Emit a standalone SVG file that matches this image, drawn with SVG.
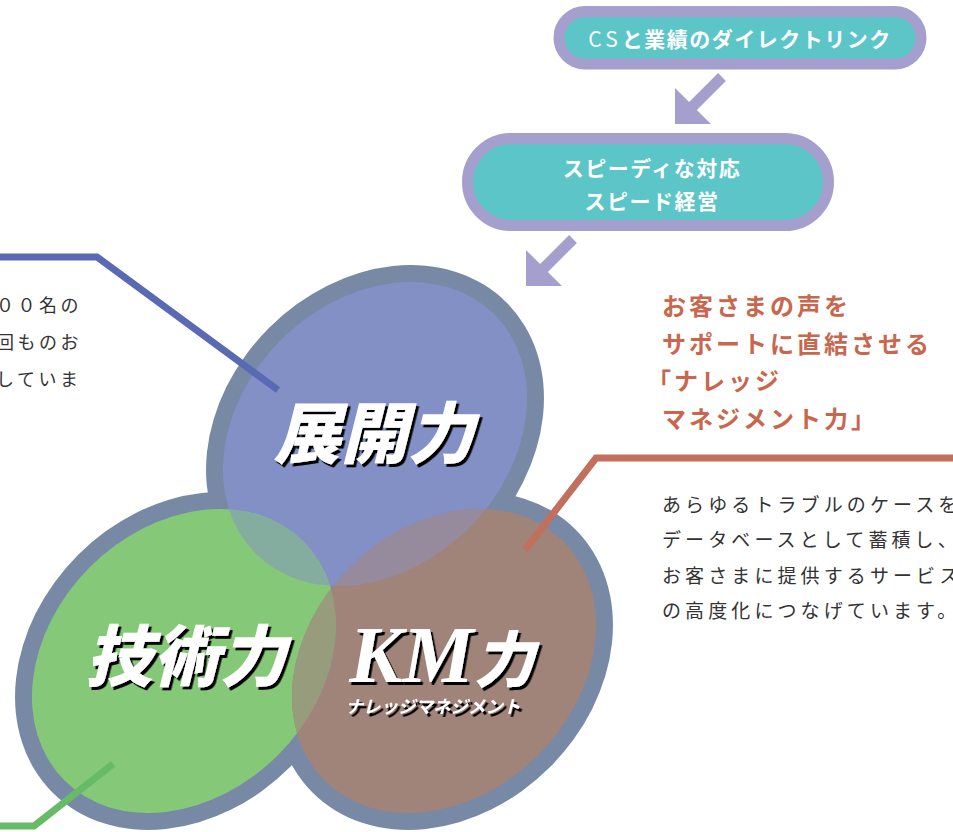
<svg xmlns="http://www.w3.org/2000/svg" width="953" height="832" viewBox="0 0 953 832">
<style>
.pill{fill:#5bc5c8;stroke:#a59fce;stroke-width:11}
.arrow{fill:#a59fce}
.ring{fill:#7889a6}
.jp{font-family:"Noto Sans CJK JP","Noto Sans",sans-serif}
.pt{fill:#fff;font-size:21px;font-weight:700;letter-spacing:1.5px;text-anchor:middle}
.big{fill:#fff;font-weight:900;font-style:italic;font-size:67px;text-anchor:middle}
.body{fill:#333;font-size:18px;letter-spacing:3.5px}
.rbody{fill:#333;font-size:19px;letter-spacing:4.1px}
.orange{fill:#c8674e;font-size:24px;font-weight:700;letter-spacing:3px}
.lead{fill:none;stroke-width:7;stroke-linejoin:miter}
</style>
<defs>
<filter id="sh" x="-10%" y="-10%" width="130%" height="140%">
<feDropShadow dx="2.5" dy="3" stdDeviation="0" flood-color="#000" flood-opacity="1"/>
</filter>
<ellipse id="eB" cx="375" cy="434" rx="169" ry="133" transform="rotate(-45 375 434)"/>
<ellipse id="eG" cx="184" cy="661" rx="169" ry="133" transform="rotate(-45 184 661)"/>
<ellipse id="eR" cx="444" cy="661" rx="169" ry="133" transform="rotate(-45 444 661)"/>
<clipPath id="cB"><use href="#eB"/></clipPath>
<clipPath id="cG"><use href="#eG"/></clipPath>
</defs>

<g id="venn">
<ellipse class="ring" cx="375" cy="434" rx="186" ry="150" transform="rotate(-45 375 434)"/>
<ellipse class="ring" cx="184" cy="661" rx="186" ry="150" transform="rotate(-45 184 661)"/>
<ellipse class="ring" cx="444" cy="661" rx="186" ry="150" transform="rotate(-45 444 661)"/>
<use href="#eB" fill="#8290c6"/>
<use href="#eG" fill="#85c878"/>
<use href="#eR" fill="#a08379"/>
<g clip-path="url(#cB)"><use href="#eG" fill="#85ad9f"/></g>
<g clip-path="url(#cB)"><use href="#eR" fill="#968a9d"/></g>
<g clip-path="url(#cG)"><use href="#eR" fill="#979c7c"/></g>
</g>

<g id="connectors">
<polygon class="arrow" points="675,124 675,88 689.1,102.1 718.1,73.1 725.9,80.9 696.9,109.9 711,124"/>
<polygon class="arrow" points="526,286 526,250 540.1,264.1 569.1,235.1 576.9,242.9 547.9,271.9 562,286"/>
<polyline class="lead" stroke="#5a69b3" points="-5,257 97,257 278,390"/>
<polyline class="lead" stroke="#c0705c" points="525,550 596,458 960,458"/>
<polyline class="lead" stroke="#66bb66" points="113,764 34,826 -5,826"/>
</g>

<g id="node-cs">
<rect class="pill" x="559" y="11.5" width="362" height="52.5" rx="26.25"/>
<text class="jp pt" x="740" y="47"><tspan font-weight="400" letter-spacing="4px">CS</tspan>と業績のダイレクトリンク</text>
</g>

<g id="node-speed">
<rect class="pill" x="467.5" y="138.5" width="361" height="87" rx="43.5"/>
<text class="jp pt" x="652" y="176">スピーディな対応</text>
<text class="jp pt" x="652" y="209">スピード経営</text>
</g>

<g id="node-tenkai">
<text class="jp big" x="374" y="458" filter="url(#sh)">展開力</text>
</g>

<g id="node-gijutsu">
<text class="jp big" x="186" y="681" filter="url(#sh)">技術力</text>
</g>

<g id="node-km">
<text x="442" y="682" text-anchor="middle" filter="url(#sh)" fill="#fff" font-style="italic" font-weight="900"><tspan font-family="'Liberation Serif',serif" font-size="80">KM</tspan><tspan class="jp" font-size="61">力</tspan></text>
<text class="jp" x="433" y="713" text-anchor="middle" filter="url(#sh)" fill="#fff" font-style="italic" font-weight="700" font-size="17.5">ナレッジマネジメント</text>
</g>

<g id="left-text">
<text class="jp body" x="-4" y="312">００名の</text>
<text class="jp body" x="-4" y="349">回ものお</text>
<text class="jp body" x="-4" y="386">していま</text>
</g>

<g id="orange-text">
<text class="jp orange" x="662" y="315">お客さまの声を</text>
<text class="jp orange" x="662" y="353">サポートに直結させる</text>
<text class="jp orange" x="647" y="390">「ナレッジ</text>
<text class="jp orange" x="662" y="428">マネジメント力」</text>
</g>

<g id="right-text">
<text class="jp rbody" x="662" y="512">あらゆるトラブルのケースを</text>
<text class="jp rbody" x="662" y="547">データベースとして蓄積し、</text>
<text class="jp rbody" x="662" y="583">お客さまに提供するサービス</text>
<text class="jp rbody" x="662" y="618">の高度化につなげています。</text>
</g>
</svg>
